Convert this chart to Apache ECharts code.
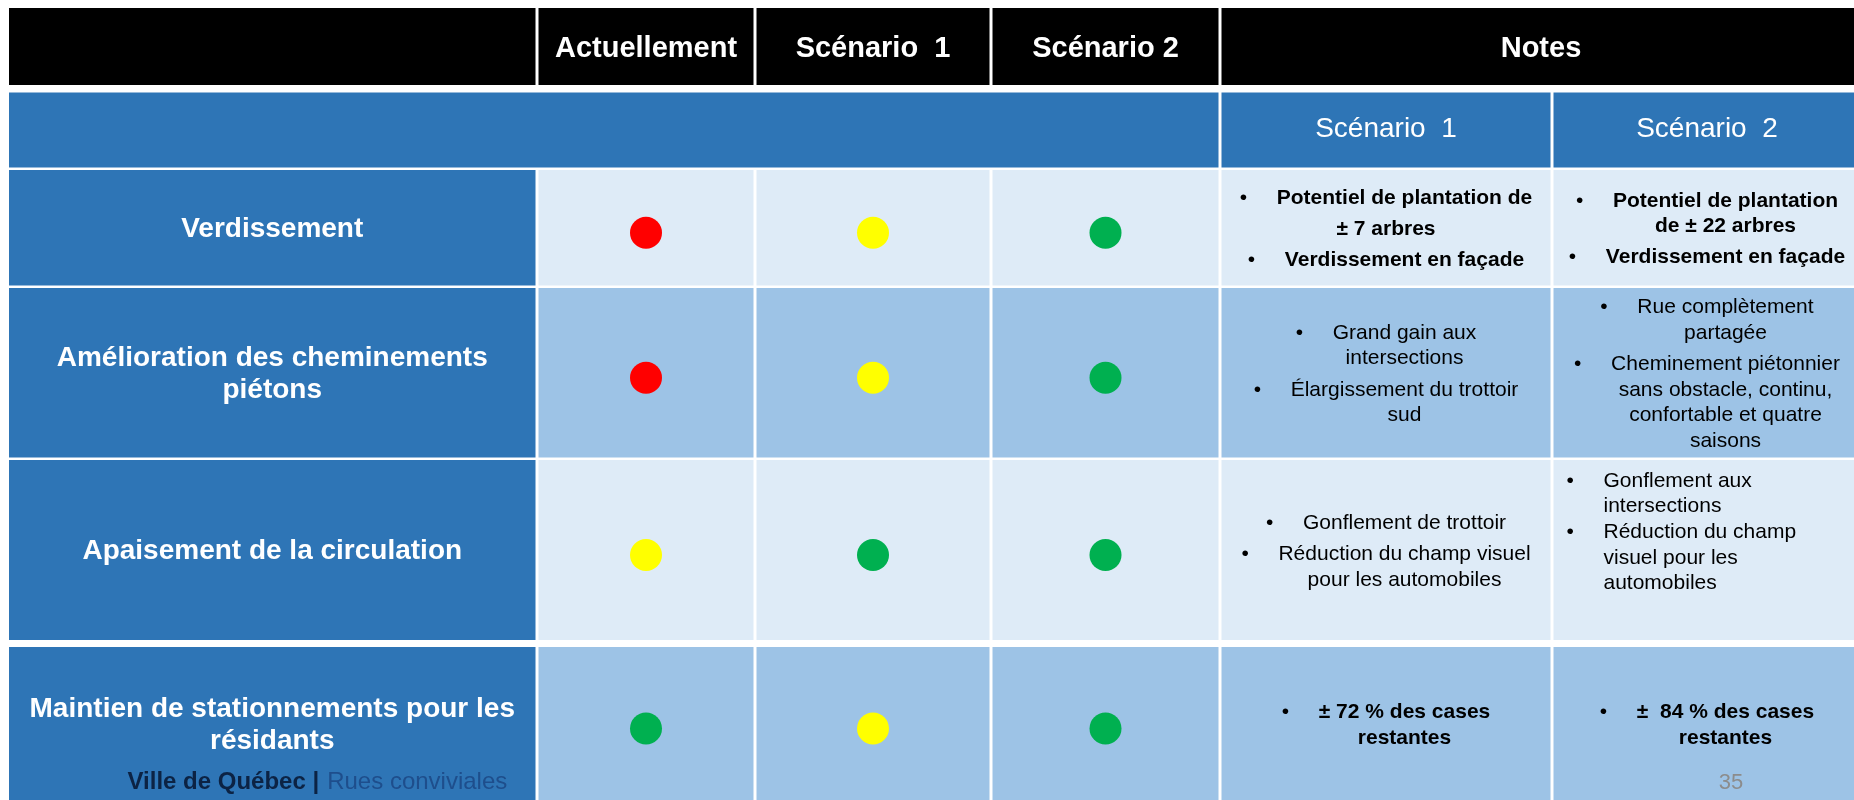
<!DOCTYPE html>
<html>
<head>
<meta charset="utf-8">
<script src="https://cdn.jsdelivr.net/npm/echarts@6/dist/echarts.min.js"></script>
<style>
html, body { margin: 0; padding: 0; background: #ffffff; }
#chart { width: 1854px; height: 800px; }
</style>
</head>
<body>
<div id="chart"></div>
<script>
// ---------------- DATA ----------------
const headerLabels = ['Actuellement', 'Scénario  1', 'Scénario 2', 'Notes'];
const noteHeaders = ['Scénario  1', 'Scénario  2'];
const criteria = [
  'Verdissement',
  'Amélioration des cheminements\npiétons',
  'Apaisement de la circulation',
  'Maintien de stationnements pour les\nrésidants'
];
// 0 = rouge, 1 = jaune, 2 = vert
const levelActuel = [0, 0, 1, 2];
const levelScenario1 = [1, 1, 2, 1];
const levelScenario2 = [2, 2, 2, 2];
const notesScenario1 = [
  ['• Potentiel de plantation de', '± 7 arbres', '• Verdissement en façade'],
  ['• Grand gain aux\nintersections', '• Élargissement du trottoir\nsud'],
  ['• Gonflement de trottoir', '• Réduction du champ visuel\npour les automobiles'],
  ['• ± 72 % des cases\nrestantes']
];
const notesScenario2 = [
  ['• Potentiel de plantation\nde ± 22 arbres', '• Verdissement en façade'],
  ['• Rue complètement\npartagée', '• Cheminement piétonnier\nsans obstacle, continu,\nconfortable et quatre\nsaisons'],
  ['• Gonflement aux\nintersections', '• Réduction du champ\nvisuel pour les\nautomobiles'],
  ['• ±  84 % des cases\nrestantes']
];
const footerBrand = 'Ville de Québec |';
const footerProject = 'Rues conviviales';
const pageNumber = '35';

// ---------------- LAYOUT / STYLE ----------------
const W = 1854, H = 800;
const FONT_FAMILY = '"Liberation Sans", Arial, Helvetica, sans-serif';
const COLX = [9, 537, 755, 991, 1220, 1552, 1862];
const HEADER_Y = [8, 85];
const BAND_Y = [92.5, 167.5];
const ROW_Y = [[170, 285.5], [288, 457.5], [460, 640], [647, 800]];
const C_BLACK = '#000000', C_BLUE = '#2E75B6', C_LIGHT = '#DEEBF7', C_MID = '#9DC3E6';
const ROW_FILL = [C_LIGHT, C_MID, C_LIGHT, C_MID];
const LEVEL_COLORS = ['#FF0000', '#FFFF00', '#00B050'];
const NOTE_BOLD = [true, false, false, true];
const NOTE_SIZE = 21, NOTE_LH = 25.6, NOTE_PARA_GAP = 5.5, BULLET_W = 37, NOTE_DY = 1.5;
const NOTE_SPECIAL = { '1-2': { left: true, top: 21, paraGap: 0 } };
const CIRCLE_R = 16, CIRCLE_DY = 5;

function colL(i) { return i === 0 ? COLX[0] : COLX[i] + 1.5; }
function colR(i) { return COLX[i + 1] - 1.5; }

const measureCtx = document.createElement('canvas').getContext('2d');
function textWidth(t, size, weight) {
  measureCtx.font = weight + ' ' + size + 'px ' + FONT_FAMILY;
  return measureCtx.measureText(t).width;
}

function rectEl(api, x0, y0, x1, y1, fill) {
  const a = api.coord([x0, y0]), b = api.coord([x1, y1]);
  return { type: 'rect', shape: { x: Math.min(a[0], b[0]), y: Math.min(a[1], b[1]), width: Math.abs(b[0] - a[0]), height: Math.abs(b[1] - a[1]) }, style: { fill: fill } };
}
function textEl(api, x, y, text, opts) {
  const p = api.coord([x, y]);
  return { type: 'text', x: p[0], y: p[1], style: Object.assign({ text: text, fill: '#ffffff', fontFamily: FONT_FAMILY, align: 'center', verticalAlign: 'middle' }, opts || {}) };
}

// ---------------- RENDERERS ----------------
function renderHeader(params, api) {
  const k = params.dataIndex;
  let x0, x1;
  if (k < 4) { x0 = colL(k); x1 = colR(k); } else { x0 = colL(4); x1 = colR(5); }
  const children = [rectEl(api, x0, HEADER_Y[0], x1, HEADER_Y[1], C_BLACK)];
  const label = k === 0 ? '' : headerLabels[k - 1];
  if (label) children.push(textEl(api, (x0 + x1) / 2, 48.5, label, { fontSize: 29, fontWeight: 'bold' }));
  return { type: 'group', children: children };
}

function renderBand(params, api) {
  const k = params.dataIndex;
  let x0, x1;
  if (k === 0) { x0 = colL(0); x1 = colR(3); } else { x0 = colL(3 + k); x1 = colR(3 + k); }
  const children = [rectEl(api, x0, BAND_Y[0], x1, BAND_Y[1], C_BLUE)];
  if (k > 0) children.push(textEl(api, (x0 + x1) / 2, 129.5, noteHeaders[k - 1], { fontSize: 28, fontWeight: 'normal' }));
  return { type: 'group', children: children };
}

function renderCriterion(params, api) {
  const i = params.dataIndex;
  const [y0, y1] = ROW_Y[i];
  return { type: 'group', children: [
    rectEl(api, colL(0), y0, colR(0), y1, C_BLUE),
    textEl(api, (colL(0) + colR(0)) / 2, (y0 + y1) / 2 + 1.5, criteria[i], { fontSize: 28, fontWeight: 'bold', lineHeight: 32 })
  ] };
}

function renderStatus(params, api) {
  const col = api.value(0), row = api.value(1), level = api.value(2);
  const c = col + 1;
  const [y0, y1] = ROW_Y[row];
  const x0 = colL(c), x1 = colR(c);
  const center = api.coord([(x0 + x1) / 2, (y0 + y1) / 2 + CIRCLE_DY]);
  return { type: 'group', children: [
    rectEl(api, x0, y0, x1, y1, ROW_FILL[row]),
    { type: 'circle', shape: { cx: center[0], cy: center[1], r: CIRCLE_R }, style: { fill: LEVEL_COLORS[level] } }
  ] };
}

function renderNote(params, api) {
  const which = api.value(0), row = api.value(1);
  const paras = (which === 0 ? notesScenario1 : notesScenario2)[row];
  const weight = NOTE_BOLD[row] ? 'bold' : 'normal';
  const c = 4 + which;
  const x0 = colL(c), x1 = colR(c);
  const cx = (x0 + x1) / 2;
  const [y0, y1] = ROW_Y[row];
  const special = NOTE_SPECIAL[which + '-' + row] || {};
  const paraGap = special.paraGap != null ? special.paraGap : NOTE_PARA_GAP;
  const lines = [];
  paras.forEach(function (p, pi) {
    const bullet = p.indexOf('• ') === 0;
    const parts = (bullet ? p.slice(2) : p).split('\n');
    parts.forEach(function (t, li) {
      lines.push({ t: t, bullet: bullet && li === 0, cont: bullet && li > 0, gap: (li === 0 && pi > 0) ? paraGap : 0 });
    });
  });
  const rel = [];
  let y = 0;
  lines.forEach(function (l, k) { if (k > 0) y += NOTE_LH + l.gap; rel.push(y); });
  const start = special.top != null ? y0 + special.top : (y0 + y1) / 2 + NOTE_DY - y / 2;
  const children = [rectEl(api, x0, y0, x1, y1, ROW_FILL[row])];
  const base = { fontSize: NOTE_SIZE, fontWeight: weight, fill: '#000000' };
  lines.forEach(function (l, k) {
    const ly = start + rel[k];
    if (special.left) {
      if (l.bullet) children.push(textEl(api, x0 + 13, ly, '•', Object.assign({}, base, { fontWeight: 'normal', align: 'left' })));
      children.push(textEl(api, x0 + 13 + BULLET_W, ly, l.t, Object.assign({}, base, { align: 'left' })));
    } else if (l.bullet) {
      const w = textWidth(l.t, NOTE_SIZE, weight);
      const left = cx - (BULLET_W + w) / 2;
      children.push(textEl(api, left, ly, '•', Object.assign({}, base, { fontWeight: 'normal', align: 'left' })));
      children.push(textEl(api, left + BULLET_W, ly, l.t, Object.assign({}, base, { align: 'left' })));
    } else if (l.cont) {
      children.push(textEl(api, cx + BULLET_W / 2, ly, l.t, base));
    } else {
      children.push(textEl(api, cx, ly, l.t, base));
    }
  });
  return { type: 'group', children: children };
}

function renderFooter(params, api) {
  const p = api.coord([127.5, 782]);
  const q = api.coord([1731, 783]);
  return { type: 'group', children: [
    { type: 'text', x: p[0], y: p[1], style: {
      text: '{a|' + footerBrand + '}{b|' + footerProject + '}',
      align: 'left', verticalAlign: 'middle',
      rich: {
        a: { fontFamily: FONT_FAMILY, fontSize: 24, fontWeight: 'bold', fill: '#0C2344', color: '#0C2344' },
        b: { fontFamily: FONT_FAMILY, fontSize: 24, fontWeight: 'normal', fill: '#1E4E8C', color: '#1E4E8C', padding: [0, 0, 0, 8] }
      }
    } },
    { type: 'text', x: q[0], y: q[1], style: { text: pageNumber, fontFamily: FONT_FAMILY, fontSize: 22, fill: '#8C8C8C', align: 'center', verticalAlign: 'middle' } }
  ] };
}

// ---------------- DATA → SERIES ----------------
const headerData = [[0, 0]].concat(headerLabels.map(function (_, i) { return [i + 1, 0]; }));
const bandData = [[0, 0]].concat(noteHeaders.map(function (_, i) { return [i + 1, 0]; }));
const criteriaData = criteria.map(function (_, i) { return [0, i]; });
const statusData = [];
criteria.forEach(function (_, i) {
  statusData.push([0, i, levelActuel[i]]);
  statusData.push([1, i, levelScenario1[i]]);
  statusData.push([2, i, levelScenario2[i]]);
});
const noteData = [];
criteria.forEach(function (_, i) { noteData.push([0, i]); noteData.push([1, i]); });

const chart = echarts.init(document.getElementById('chart'), null, { renderer: 'canvas', width: W, height: H });
chart.setOption({
  backgroundColor: '#ffffff',
  animation: false,
  grid: { left: 0, right: 0, top: 0, bottom: 0, containLabel: false },
  xAxis: { type: 'value', min: 0, max: W, show: false },
  yAxis: { type: 'value', min: 0, max: H, inverse: true, show: false },
  series: [
    { type: 'custom', name: 'header', renderItem: renderHeader, data: headerData, clip: false, silent: true, z: 2 },
    { type: 'custom', name: 'band', renderItem: renderBand, data: bandData, clip: false, silent: true, z: 2 },
    { type: 'custom', name: 'criteria', renderItem: renderCriterion, data: criteriaData, clip: false, silent: true, z: 2 },
    { type: 'custom', name: 'status', renderItem: renderStatus, data: statusData, clip: false, silent: true, z: 2 },
    { type: 'custom', name: 'notes', renderItem: renderNote, data: noteData, clip: false, silent: true, z: 2 },
    { type: 'custom', name: 'footer', renderItem: renderFooter, data: [[0, 0]], clip: false, silent: true, z: 5 }
  ]
});
</script>
</body>
</html>
